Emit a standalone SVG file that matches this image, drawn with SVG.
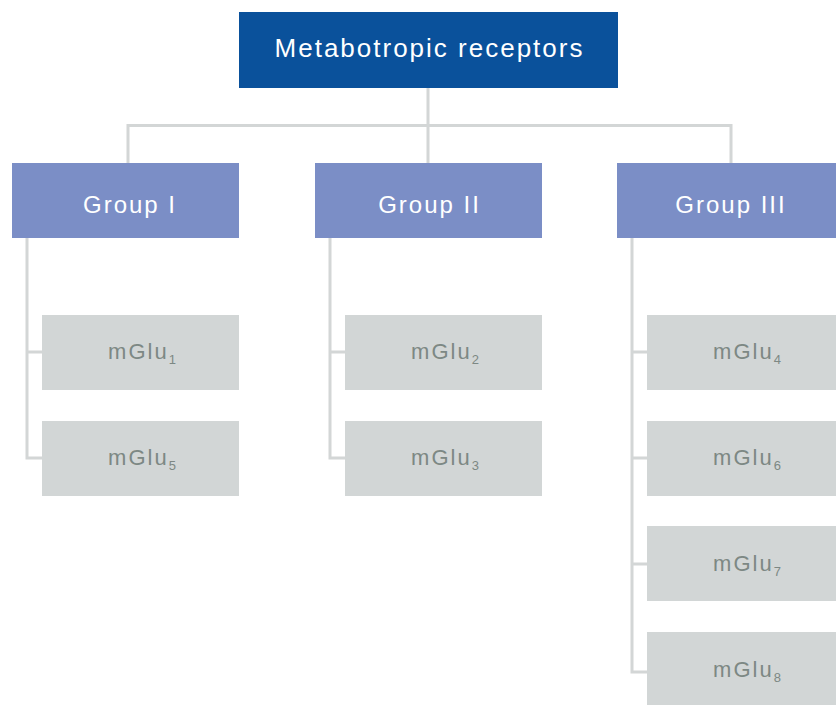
<svg xmlns="http://www.w3.org/2000/svg" width="836" height="705" viewBox="0 0 836 705">
<style>
.root{fill:#0a519b}
.grp{fill:#7b8ec6}
.sub{fill:#d2d6d6}
.t{font-family:"Liberation Sans",Arial,sans-serif;text-anchor:middle;dominant-baseline:central}
.tw{fill:#ffffff}
.tg{fill:#7d8884;font-size:22px;letter-spacing:2px}
.tg tspan{font-size:13px;letter-spacing:0}
.con{fill:none;stroke:#d3d6d6;stroke-width:3}
</style>
<rect width="836" height="705" fill="#ffffff"/>
<g id="connectors" class="con">
<path d="M428,88V163M128,125.5H731M128,124V163M731,124V163"/>
<path d="M27,238V458H42M27,352H42"/>
<path d="M330,238V458H345M330,352H345"/>
<path d="M632,238V672H647M632,352H647M632,458H647M632,564H647"/>
</g>
<g id="root"><rect class="root" x="239" y="12" width="379" height="76"/><text class="t tw" x="429.5" y="48" font-size="26" letter-spacing="2">Metabotropic receptors</text></g>
<g id="group1"><rect class="grp" x="12" y="163" width="227" height="75"/><text class="t tw" x="130" y="204" font-size="24" letter-spacing="2">Group I</text></g>
<g id="group2"><rect class="grp" x="315" y="163" width="227" height="75"/><text class="t tw" x="429.5" y="204" font-size="24" letter-spacing="2">Group II</text></g>
<g id="group3"><rect class="grp" x="617" y="163" width="219" height="75"/><text class="t tw" x="731" y="204" font-size="24" letter-spacing="2">Group III</text></g>
<g id="mglu1"><rect class="sub" x="42" y="315" width="197" height="75"/><text class="t tg" x="142" y="351">mGlu<tspan dy="8">1</tspan></text></g>
<g id="mglu5"><rect class="sub" x="42" y="421" width="197" height="75"/><text class="t tg" x="142" y="457">mGlu<tspan dy="8">5</tspan></text></g>
<g id="mglu2"><rect class="sub" x="345" y="315" width="197" height="75"/><text class="t tg" x="445" y="351">mGlu<tspan dy="8">2</tspan></text></g>
<g id="mglu3"><rect class="sub" x="345" y="421" width="197" height="75"/><text class="t tg" x="445" y="457">mGlu<tspan dy="8">3</tspan></text></g>
<g id="mglu4"><rect class="sub" x="647" y="315" width="189" height="75"/><text class="t tg" x="747" y="351">mGlu<tspan dy="8">4</tspan></text></g>
<g id="mglu6"><rect class="sub" x="647" y="421" width="189" height="75"/><text class="t tg" x="747" y="457">mGlu<tspan dy="8">6</tspan></text></g>
<g id="mglu7"><rect class="sub" x="647" y="526" width="189" height="75"/><text class="t tg" x="747" y="563">mGlu<tspan dy="8">7</tspan></text></g>
<g id="mglu8"><rect class="sub" x="647" y="632" width="189" height="73"/><text class="t tg" x="747" y="669">mGlu<tspan dy="8">8</tspan></text></g>
</svg>
